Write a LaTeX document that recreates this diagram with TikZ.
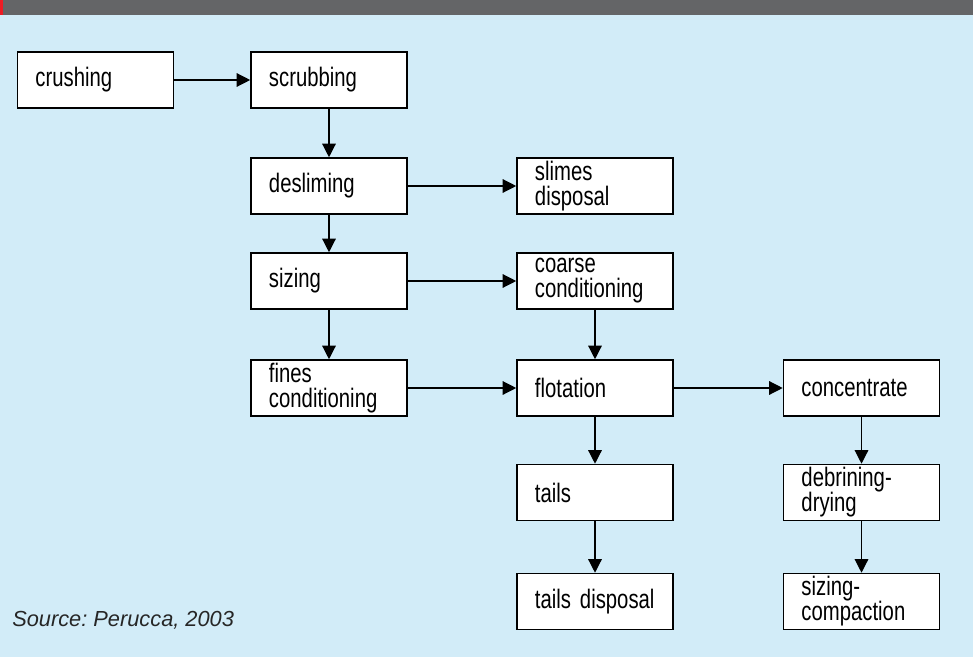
\documentclass[tikz,border=0pt]{standalone}
\usepackage{fontspec}
\setmainfont{Liberation Sans}[FakeStretch=0.76,WordSpace=0.8]
\newfontfamily\quelle{Liberation Sans}
\usetikzlibrary{arrows.meta}
\frenchspacing

\definecolor{hintergrund}{RGB}{210,236,248}
\definecolor{balken}{RGB}{100,101,103}
\definecolor{rot}{RGB}{237,28,36}

\begin{document}
\begin{tikzpicture}[x=0.025cm,y=-0.025cm,>={Triangle[length=3.4mm,width=3.4mm]},
	box/.style={draw=black,line width=1.1pt,fill=white,minimum width=3.9cm,minimum height=1.4cm,
		text width=3.0cm,inner xsep=0.45cm,inner ysep=0pt,align=left,
		font=\fontsize{19}{17.8}\selectfont},
	pfeil/.style={->,line width=0.9pt}]

\fill[hintergrund] (0,0) rectangle (973,657);
\fill[balken] (0,0) rectangle (973,14.7);
\fill[rot] (0,0) rectangle (2.5,14.7);

\def\stufe#1#2#3#4{
	\node[box] (#1) at (#2,#3) {#4};
}

\stufe{crush}{95.5}{80}{crushing}
\stufe{scrub}{329}{80}{scrubbing}
\stufe{deslim}{329}{186}{desliming}
\stufe{slimes}{595}{186}{slimes\\disposal}
\stufe{sizing}{329}{281}{sizing}
\stufe{coarse}{595}{281}{coarse\\conditioning}
\stufe{fines}{329}{388}{fines\\conditioning}
\stufe{flot}{595}{388}{flotation}
\stufe{conc}{861.5}{388}{concentrate}
\stufe{tails}{595}{492.5}{tails}
\stufe{debrin}{861.5}{492.5}{debrining-\\drying}
\stufe{tdisp}{595}{601.5}{tails disposal}
\stufe{compact}{861.5}{601.5}{sizing-\\compaction}

\draw[pfeil] (crush)--(scrub);
\draw[pfeil] (scrub)--(deslim);
\draw[pfeil] (deslim)--(slimes);
\draw[pfeil] (deslim)--(sizing);
\draw[pfeil] (sizing)--(coarse);
\draw[pfeil] (sizing)--(fines);
\draw[pfeil] (coarse)--(flot);
\draw[pfeil] (fines)--(flot);
\draw[pfeil] (flot)--(conc);
\draw[pfeil] (flot)--(tails);
\draw[pfeil] (tails)--(tdisp);
\draw[pfeil] (conc)--(debrin);
\draw[pfeil] (debrin)--(compact);

\node[anchor=west,inner sep=0pt,text=black!85,font=\quelle\itshape\fontsize{15.5}{18}\selectfont]
	(quelle) at (12,620) {Source: Perucca, 2003};

\end{tikzpicture}
\end{document}
